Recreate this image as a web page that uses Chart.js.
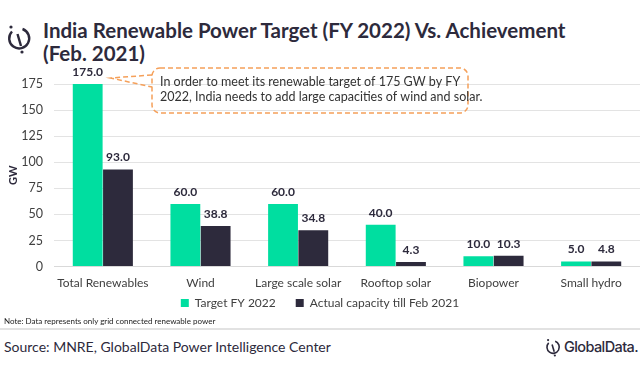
<!DOCTYPE html>
<html lang="en">
<head>
  <meta charset="UTF-8" />
  <title>India Renewable Power Target vs Achievement</title>
  <script src="https://cdn.jsdelivr.net/npm/chart.js"></script>
  <style>
    body { margin: 0; width: 640px; height: 367px; background: #fff; font-family: 'Lato', sans-serif; color: #2d2a3c; position: relative; overflow: hidden }
    .title { position: absolute; left: 43px; top: 19px; font-weight: 700; font-size: 20.5px; line-height: 23px; color: #2d2a3c; white-space: nowrap }
    .icon { position: absolute; left: 6px; top: 24px }
    .chart-box { position: absolute; left: 0; top: 60px; width: 640px; height: 262px }
    .note { position: absolute; left: 4px; top: 316px; font-size: 8px; color: #222 }
    .rule { position: absolute; left: 0; top: 328px; width: 640px; height: 2px; background: #e2e2e2 }
    .source { position: absolute; left: 4px; top: 338px; font-size: 14px; color: #2d2a3c }
    .brand { position: absolute; left: 545px; top: 338px; font-size: 14.5px; font-family: 'Inter', sans-serif; font-weight: 500; color: #2d2a3c; letter-spacing: -0.6px; white-space: nowrap }
    .brand svg { vertical-align: -5px; margin-right: 3px }
  </style>
</head>
<body>
  <svg class="icon" width="26" height="30" viewBox="0 0 26 30">
    <path d="M6 7.5 A10 10 0 1 0 16.5 5" fill="none" stroke="#2d2a3c" stroke-width="2.4"/>
    <line x1="11.5" y1="10" x2="15" y2="22" stroke="#2d2a3c" stroke-width="2.4"/>
    <circle cx="5" cy="3" r="1.6" fill="#2d2a3c"/>
    <circle cx="16" cy="28" r="1.6" fill="#2d2a3c"/>
  </svg>
  <div class="title">India Renewable Power Target (FY 2022) Vs. Achievement<br>(Feb. 2021)</div>

  <div class="chart-box"><canvas id="chart"></canvas></div>

  <div class="note">Note: Data represents only grid connected renewable power</div>
  <div class="rule"></div>
  <div class="source">Source: MNRE, GlobalData Power Intelligence Center</div>
  <div class="brand"><svg width="16" height="19" viewBox="0 0 26 30">
    <path d="M6 7.5 A10 10 0 1 0 16.5 5" fill="none" stroke="#2d2a3c" stroke-width="2.6"/>
    <line x1="11.5" y1="10" x2="15" y2="22" stroke="#2d2a3c" stroke-width="2.6"/>
    <circle cx="5" cy="3" r="1.8" fill="#2d2a3c"/>
    <circle cx="16" cy="28" r="1.8" fill="#2d2a3c"/>
  </svg>GlobalData.</div>

  <script>
    const categories = ['Total Renewables', 'Wind', 'Large scale solar', 'Rooftop solar', 'Biopower', 'Small hydro'];
    const target = [175.0, 60.0, 60.0, 40.0, 10.0, 5.0];
    const actual = [93.0, 38.8, 34.8, 4.3, 10.3, 4.8];
    const yTicks = [0, 25, 50, 75, 100, 125, 150, 175];
    const calloutLines = ['In order to meet its renewable target of 175 GW by FY', '2022, India needs to add large capacities of wind and solar.'];

    const green = '#00dea0';
    const dark = '#2d2a3c';

    // value labels above bars
    const valueLabels = {
      id: 'valueLabels',
      afterDatasetsDraw(chart) {
        const ctx = chart.ctx;
        ctx.save();
        ctx.font = 'bold 12px Lato';
        ctx.fillStyle = dark;
        ctx.textAlign = 'center';
        ctx.textBaseline = 'bottom';
        chart.data.datasets.forEach((ds, i) => {
          chart.getDatasetMeta(i).data.forEach((bar, j) => {
            ctx.fillText(ds.data[j].toFixed(1), bar.x, bar.y - 6);
          });
        });
        ctx.restore();
      }
    };

    // legend sits closer to the axis labels than its item padding would allow
    // (only the top moves, so the legend's clip box stays tall enough)
    const legendNudge = {
      id: 'legendNudge',
      afterLayout(chart) {
        chart.legend.top -= 22;
      }
    };

    // dashed callout box with pointer
    const callout = {
      id: 'callout',
      afterDraw(chart) {
        const ctx = chart.ctx;
        const top = chart.scales.y.getPixelForValue(175);
        const bar = chart.getDatasetMeta(0).data[0];
        const tipX = bar.x + bar.width / 2 + 8, tipY = top - 6;
        const x0 = 152, y0 = 8, x1 = 468, y1 = 53, r = 8;
        ctx.save();
        ctx.strokeStyle = '#f5a05a';
        ctx.lineWidth = 1.5;
        ctx.setLineDash([5, 3]);
        ctx.beginPath();
        ctx.moveTo(x0, y0 + 7);
        ctx.lineTo(tipX, tipY);
        ctx.lineTo(x0, y0 + 19);
        ctx.stroke();
        ctx.beginPath();
        ctx.roundRect(x0, y0, x1 - x0, y1 - y0, r);
        ctx.stroke();
        ctx.setLineDash([]);
        ctx.fillStyle = '#333';
        ctx.font = '12.5px Lato';
        ctx.textBaseline = 'middle';
        calloutLines.forEach((t, i) => ctx.fillText(t, 160, 22 + i * 15));
        ctx.restore();
      }
    };

    new Chart(document.getElementById('chart'), {
      type: 'bar',
      data: {
        labels: categories,
        datasets: [
          { label: 'Target FY 2022', data: target, backgroundColor: green, categoryPercentage: 0.62, barPercentage: 0.985 },
          { label: 'Actual capacity till Feb 2021', data: actual, backgroundColor: dark, categoryPercentage: 0.62, barPercentage: 0.985 }
        ]
      },
      options: {
        responsive: true,
        maintainAspectRatio: false,
        animation: false,
        layout: { padding: { top: 24, right: 0, left: 0, bottom: 0 } },
        scales: {
          x: {
            grid: { display: false, drawTicks: false },
            border: { color: '#d9d9d9' },
            ticks: { color: '#404040', font: { size: 12, family: 'Lato' }, padding: 9, maxRotation: 0, minRotation: 0, autoSkip: false }
          },
          y: {
            min: 0, max: 175,
            afterBuildTicks: s => { s.ticks = yTicks.map(v => ({ value: v })); },
            grid: { color: '#e3e3e3', drawTicks: false },
            border: { display: false },
            ticks: { color: '#404040', font: { size: 12.5, family: 'Lato' }, padding: 11 },
            title: { display: true, text: 'GW', color: dark, font: { size: 11, weight: 'bold', family: 'Lato' }, padding: 7 },
            afterFit: s => { s.width = 54; }
          }
        },
        plugins: {
          legend: {
            position: 'bottom',
            maxHeight: 23,
            labels: { boxWidth: 8, boxHeight: 8, color: '#404040', font: { size: 12, family: 'Lato' }, padding: 20 }
          },
          tooltip: { enabled: false }
        }
      },
      plugins: [valueLabels, legendNudge, callout]
    });
  </script>
</body>
</html>
